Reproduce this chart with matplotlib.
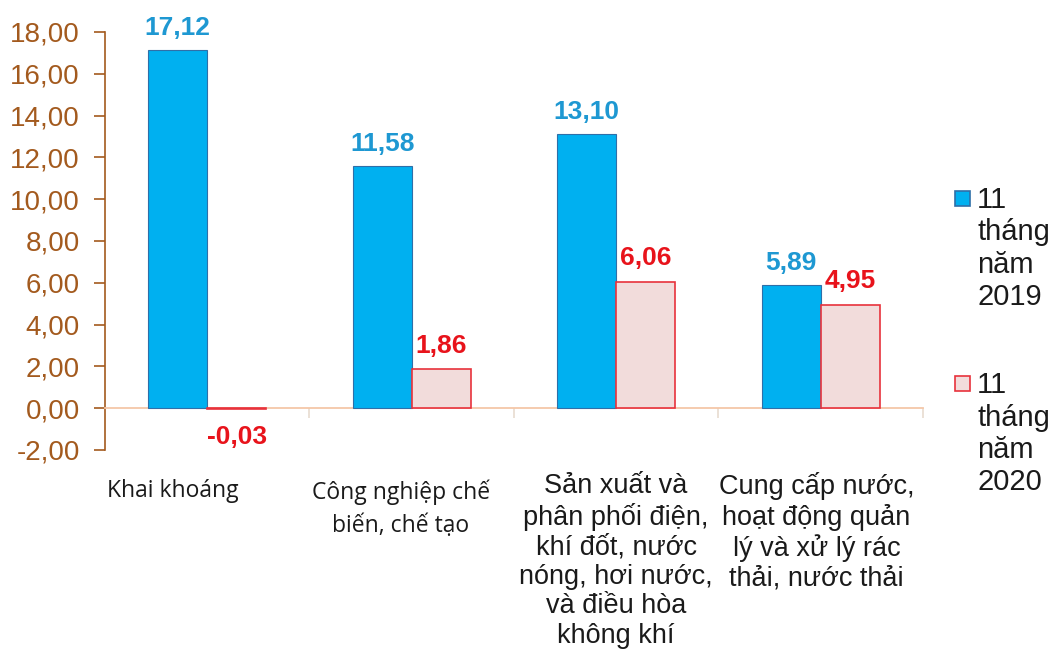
import matplotlib
matplotlib.use("Agg")
import matplotlib.pyplot as plt
from matplotlib.patches import Rectangle

categories = [
    "Khai khoáng",
    "Công nghiệp chế\nbiến, chế tạo",
    "Sản xuất và\nphân phối điện,\nkhí đốt, nước\nnóng, hơi nước,\nvà điều hòa\nkhông khí",
    "Cung cấp nước,\nhoạt động quản\nlý và xử lý rác\nthải, nước thải",
]
series_names = ["11\ntháng\nnăm\n2019", "11\ntháng\nnăm\n2020"]
values_2019 = [17.12, 11.58, 13.10, 5.89]
values_2020 = [-0.03, 1.86, 6.06, 4.95]
yticks = [-2, 0, 2, 4, 6, 8, 10, 12, 14, 16, 18]

BLUE = "#00B0F0"
BLUE_EDGE = "#2F6FA8"
PINK = "#F2DCDB"
RED_EDGE = "#E8323C"
BLUE_TXT = "#1E98D2"
RED_TXT = "#E8131B"
BROWN = "#A35A1E"
PEACH = "#F4C7A8"

def fmt(v):
    return f"{v:.2f}".replace(".", ",")

fig = plt.figure(figsize=(10.54, 6.5), dpi=100)
ax = fig.add_axes([0.0996, 0.3077, 0.776, 0.6431])

x = list(range(len(categories)))
w = 0.289
b1 = ax.bar([i - w / 2 for i in x], values_2019, width=w, color=BLUE,
            edgecolor=BLUE_EDGE, linewidth=0.8, zorder=3)
b2 = ax.bar([i + w / 2 for i in x], values_2020, width=w, color=PINK,
            edgecolor=RED_EDGE, linewidth=1.2, zorder=3)

ax.set_xlim(-0.5, 3.5)
ax.set_ylim(-2, 18)

for rect, v in zip(b1, values_2019):
    ax.annotate(fmt(v), (rect.get_x() + rect.get_width() / 2, v),
                xytext=(0, 16), textcoords="offset points", ha="center",
                va="center", color=BLUE_TXT, fontsize=19, fontweight="bold",
                family="Liberation Sans")
for rect, v in zip(b2, values_2020):
    off = 17 if v >= 0 else -21
    ax.annotate(fmt(v), (rect.get_x() + rect.get_width() / 2, max(v, 0)),
                xytext=(0, off), textcoords="offset points", ha="center",
                va="center", color=RED_TXT, fontsize=19, fontweight="bold",
                family="Liberation Sans")

# y axis
ax.set_yticks(yticks)
ax.set_yticklabels([fmt(t) for t in yticks], family="Liberation Sans",
                   fontsize=20, color=BROWN)
ax.tick_params(axis="y", direction="out", length=8, width=1.2, color=BROWN, pad=10)
ax.spines["left"].set_color(BROWN)
ax.spines["left"].set_linewidth(1.2)
for s in ["top", "right"]:
    ax.spines[s].set_visible(False)

# x axis at zero
ax.spines["bottom"].set_position(("data", 0))
ax.spines["bottom"].set_color(PEACH)
ax.spines["bottom"].set_linewidth(1.3)
ax.set_xticks([0.5, 1.5, 2.5, 3.5])
ax.set_xticklabels([])
ax.tick_params(axis="x", direction="out", length=7, width=1.2, color="#E8DCD0")

# category labels
label_x = [-0.167, 0.947, 2.0, 2.98]
label_y = [-3.39, -3.39, -3.12, -3.05]
for i, (lab, lx, ly) in enumerate(zip(categories, label_x, label_y)):
    if i < 2:
        ax.text(lx, ly, lab, ha="center", va="top", fontsize=16.5,
                family="Open Sans", color="#1A1A1A", linespacing=1.55,
                clip_on=False)
    else:
        ax.text(lx, ly, lab, ha="center", va="top", fontsize=19.5,
                family="Liberation Sans", color="#1A1A1A", linespacing=1.17,
                clip_on=False)

# legend (manual)
leg_items = [(series_names[0], BLUE, BLUE_EDGE, 0.683, 0.714),
             (series_names[1], PINK, RED_EDGE, 0.3985, 0.429)]
for name, fc, ec, ybot, ytxt in leg_items:
    fig.patches.append(Rectangle((0.906, ybot), 0.0142, 0.023,
                                 transform=fig.transFigure, facecolor=fc,
                                 edgecolor=ec, linewidth=1.2))
    fig.text(0.927, ytxt, name, ha="left", va="top", fontsize=21,
             family="Liberation Sans", color="#1A1A1A", linespacing=1.2)

fig.savefig("out.png", dpi=100)
